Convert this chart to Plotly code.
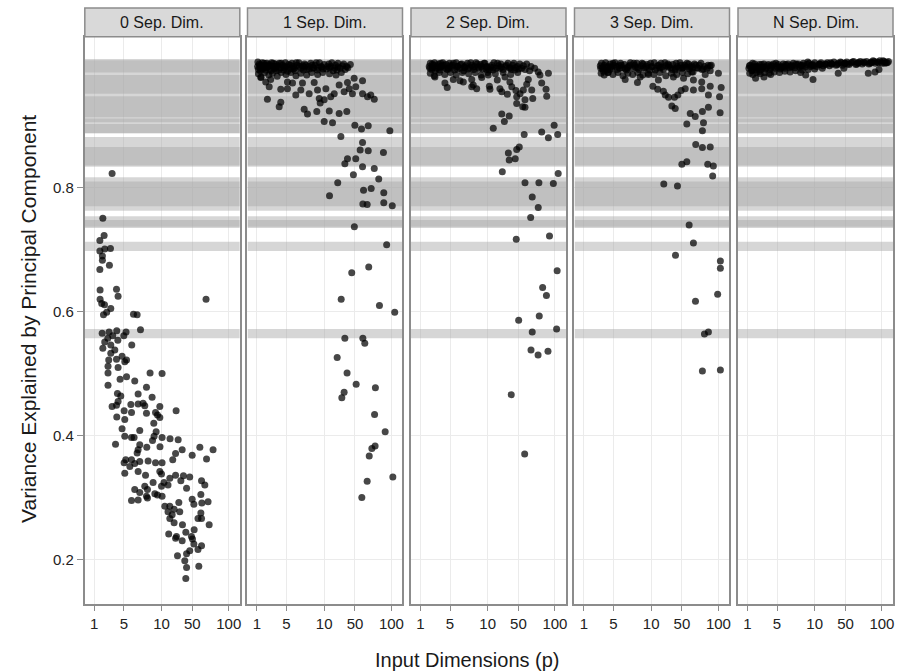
import plotly.graph_objects as go

# ---------------- data ----------------
facet_labels = ["0 Sep. Dim.", "1 Sep. Dim.", "2 Sep. Dim.", "3 Sep. Dim.", "N Sep. Dim."]
x_tick_vals = [1, 2.75, 10, 28.7, 100]
x_tick_text = ["1", "5", "10", "50", "100"]
y_tick_vals = [0.2, 0.4, 0.6, 0.8]
y_tick_text = ["0.2", "0.4", "0.6", "0.8"]

# reference bands (value ranges), drawn semi-transparent so overlaps look darker
bands = [(0.888, 1.008), (0.986, 1.006), (0.952, 0.982), (0.914, 0.948), (0.906, 0.912),
         (0.888, 0.903), (0.834, 0.882), (0.836, 0.866), (0.763, 0.817), (0.770, 0.810),
         (0.735, 0.754), (0.737, 0.748), (0.698, 0.713), (0.557, 0.572)]

# (p, variance explained) per facet
pts0 = [(1.84,0.823),(1.34,0.751),(1.40,0.723),(1.21,0.715),(1.21,0.698),(1.43,0.701),(1.74,0.702),(1.32,0.690),
        (1.32,0.683),(1.68,0.675),(1.21,0.668),(1.22,0.635),(2.14,0.636),(2.26,0.625),(1.22,0.620),(1.29,0.613),
        (1.42,0.611),(1.76,0.605),(1.53,0.599),(1.37,0.595),(3.83,0.596),(4.34,0.595),(46,0.620),(1.31,0.565),
        (1.66,0.567),(2.16,0.569),(2.97,0.567),(4.87,0.571),(1.59,0.557),(1.88,0.561),(1.43,0.551),(1.76,0.546),
        (2.24,0.554),(2.75,0.561),(3.61,0.546),(1.34,0.541),(2.02,0.538),
        (1.76,0.533),(2.59,0.528),(1.64,0.522),(2.84,0.519),(3.02,0.522),(2.14,0.523),(1.60,0.512),(2.26,0.510),
        (6.76,0.501),(10.2,0.500),(1.60,0.501),(2.42,0.491),(3.02,0.495),(4.0,0.488),(1.60,0.481),(5.98,0.478),
        (2.21,0.468),(2.48,0.464),(4.49,0.467),(7.25,0.462),(2.26,0.455),(2.14,0.449),(1.84,0.447),(3.5,0.450),
        (4.49,0.451),(5.32,0.452),(5.64,0.448),(9.44,0.447),(2.78,0.440),(3.58,0.437),(5.98,0.436),(8.15,0.437),
        (8.72,0.433),(16.5,0.440),(2.16,0.430),(2.84,0.426),(9.44,0.429),(7.68,0.420),(2.59,0.411),(4.75,0.408),
        (8.32,0.406),(2.84,0.399),(3.58,0.397),(3.91,0.397),(7.76,0.399),(10.2,0.397),(13.4,0.395),(17.7,0.393),
        (7.35,0.392),(2.07,0.386),(4.75,0.385),(6.04,0.381),(9.5,0.382),(4.49,0.377),(20.3,0.377),(37.2,0.381),
        (58.5,0.377),(4.34,0.372),(16.2,0.371),(28.6,0.368),(46.8,0.362),(2.94,0.361),(3.58,0.361),(2.78,0.356),
        (4.0,0.355),(4.75,0.358),(6.32,0.359),(8.15,0.356),(10.2,0.356),(14.7,0.361),(3.38,0.350),(4.49,0.342),
        (2.84,0.339),(9.44,0.342),(10.0,0.338),(5.79,0.336),(16.2,0.336),(21.2,0.335),(26.3,0.333),(13.3,0.331),
        (19.4,0.327),(39.4,0.327),(44.1,0.320),(7.5,0.324),(10.9,0.324),(12.5,0.320),(5.64,0.318),(4.0,0.313),
        (23.6,0.315),(6.18,0.313),(10.0,0.318),(4.75,0.308),(7.96,0.306),(8.72,0.304),(10.2,0.302),(5.98,0.302),
        (6.18,0.299),(3.58,0.295),(4.49,0.296),(28.6,0.297),(38.5,0.305),(49.3,0.293),(30.3,0.289),(39.8,0.291),
        (11.2,0.286),(13.3,0.286),(18.1,0.292),(15.4,0.281),(12.5,0.277),(18.7,0.277),(14.4,0.272),(38.5,0.275),
        (34.9,0.266),(39.4,0.266),(13.3,0.266),(15.4,0.259),(20.5,0.256),(51.2,0.256),(12.8,0.241),(16.7,0.237),
        (23.0,0.244),(30.6,0.248),(27.9,0.237),(16.2,0.234),(20.3,0.230),(28.9,0.233),(30.3,0.225),(39.4,0.222),
        (34.9,0.216),(26.3,0.214),(23.6,0.209),(17.3,0.206),(22.2,0.198),(35.9,0.189),(23.6,0.187),(23.0,0.169)]

pts1 = [(1.02,0.996),(1.05,0.991),(1.08,1.000),(1.12,0.989),(1.16,0.997),(1.20,1.002),(1.25,0.993),(1.30,0.998),
        (1.35,0.990),(1.40,1.001),(1.45,0.995),(1.52,0.999),(1.58,0.991),(1.65,1.002),(1.72,0.996),(1.80,0.993),
        (1.88,1.000),(1.95,0.989),(2.05,0.997),(2.15,1.001),(2.25,0.994),(2.38,0.998),(2.50,0.990),(2.65,1.002),
        (2.80,0.995),(2.95,0.999),(3.10,0.992),(3.30,1.001),(3.50,0.996),(3.70,0.989),(3.95,0.998),(4.20,1.002),
        (4.50,0.993),(4.80,0.997),(5.10,1.000),(5.50,0.991),(5.90,0.996),(6.30,1.001),(6.80,0.994),(7.30,0.998),
        (7.90,0.990),(8.50,1.002),(9.20,0.995),(10.0,0.999),(10.8,0.992),(11.7,1.000),(12.6,0.996),(13.6,0.989),
        (14.7,0.998),(16.0,1.001),(17.3,0.993),(18.7,0.997),(20.5,0.991),
        (1.05,0.984),(1.15,0.979),(1.30,0.986),(1.50,0.982),(1.70,0.985),(2.00,0.980),(2.30,0.986),(2.70,0.983),
        (3.20,0.986),(3.80,0.981),(4.50,0.985),(5.50,0.982),(6.50,0.986),(8.00,0.983),(9.50,0.986),(12.0,0.984),
        (15.0,0.982),(18.0,0.986),
        (1.1,0.994),(1.4,0.996),(1.9,0.993),(2.6,0.996),(3.6,0.993),(5,0.995),(7,0.993),(9,0.996),(12,0.994),
        (16,0.995),(22.5,0.994),(24.5,0.999),
        (1.03,1.003),(1.1,0.998),(1.18,0.992),(1.28,1.001),(1.38,0.994),(1.5,0.997),(1.62,0.989),(1.75,1.001),
        (1.9,0.996),(2.1,0.990),(2.3,1.001),(2.55,0.994),(2.85,0.988),(3.15,0.998),(3.45,0.992),(3.85,1.002),
        (4.3,0.996),(4.9,0.990),(5.3,0.998),(6.0,0.992),(6.6,0.998),(7.6,1.002),(8.2,0.994),(9.6,0.992),
        (11.2,0.996),(13.0,1.002),(14.2,0.993),(15.5,0.990),(19.5,1.000),(21.5,0.996),
        (1.14,0.978),(1.35,0.971),(1.52,0.963),(1.60,0.975),(2.26,0.959),(1.43,0.943),(2.26,0.938),(2.14,0.931),
        (2.84,0.971),(2.84,0.960),(3.38,0.969),(3.78,0.950),(4.49,0.958),(4.75,0.969),(5.98,0.952),(7.1,0.970),
        (7.96,0.958),(8.44,0.944),(8.72,0.937),(10,0.942),(10.6,0.960),(12.5,0.947),(14.1,0.952),(16.7,0.966),
        (19.8,0.955),(22.2,0.970),(23.6,0.960),(26.3,0.952),(27.9,0.977),(29.5,0.963),(37.2,0.973),(37.2,0.952),
        (44.1,0.947),(49.3,0.950),(55.6,0.943),(5.04,0.927),(5.64,0.919),(7.76,0.923),(11.9,0.924),(16.7,0.920),
        (21.7,0.923),(10,0.907),(13.3,0.905),(17.7,0.883),(28.6,0.901),(35.9,0.895),(45.2,0.900),(37.2,0.873),
        (34.3,0.861),(45.2,0.860),(76.1,0.857),(94.8,0.892),(22.2,0.847),(20.3,0.839),(29.5,0.847),(37.2,0.834),
        (55.6,0.831),(27.2,0.821),(64.8,0.814),(15.9,0.808),(12.0,0.787),(38.5,0.796),(50,0.799),(77,0.792),
        (37.6,0.774),(43.6,0.773),(77,0.776),(103,0.771),(28.1,0.737),(85,0.708),(46,0.672),(25.7,0.663),
        (17.9,0.620),(66.4,0.610),(112,0.599),(20.3,0.557),(37.6,0.557),(40.2,0.549),(15.6,0.526),(21.9,0.501),
        (29.9,0.483),(57.8,0.477),(19.8,0.470),(18.3,0.461),(56.2,0.434),(80.8,0.406),(57.2,0.383),(51.2,0.379),
        (46.8,0.367),(105,0.333),(43.6,0.326),(36.3,0.300)]

pts2 = [(1.35,0.996),(1.40,1.001),(1.47,0.991),(1.55,0.998),(1.62,1.002),(1.70,0.993),(1.78,0.997),(1.86,1.000),
        (1.95,0.990),(2.05,0.996),(2.15,1.002),(2.27,0.994),(2.40,0.999),(2.55,0.991),(2.70,1.001),(2.85,0.995),
        (3.00,0.998),(3.20,0.990),(3.40,1.002),(3.60,0.996),(3.85,0.993),(4.10,1.000),(4.40,0.989),(4.70,0.997),
        (5.00,1.001),(5.40,0.994),(5.80,0.998),(6.20,0.991),(6.70,1.002),(7.20,0.995),(7.80,0.999),(8.40,0.992),
        (9.10,1.001),(9.80,0.996),(10.6,0.990),(11.5,0.998),(12.4,1.002),(13.4,0.993),(14.5,0.997),(15.7,1.000),
        (17.0,0.991),(18.4,0.996),(20.0,1.001),(21.7,0.994),(23.5,0.998),(25.5,0.990),(27.7,0.996),(30.0,1.000),
        (32.0,0.993),
        (1.4,0.985),(1.6,0.981),(1.9,0.986),(2.3,0.983),(2.8,0.986),(3.4,0.982),(4.2,0.986),(5.2,0.984),(6.5,0.986),
        (8.0,0.982),(10,0.986),(13,0.984),(17,0.986),(22,0.983),(28,0.986),(36,0.991),(42,0.989),(50,0.993),
        (1.5,0.994),(2.0,0.995),(2.6,0.993),(3.5,0.996),(4.6,0.994),(6,0.995),(7.5,0.993),(9.5,0.995),(12,0.994),
        (16,0.995),(21,0.993),(26,0.994),
        (1.38,0.993),(1.5,1.000),(1.66,0.989),(1.82,0.994),(2.0,1.001),(2.2,0.998),(2.45,0.992),(2.75,0.997),
        (3.1,1.001),(3.5,0.992),(3.95,0.999),(4.5,0.995),(5.1,0.992),(5.6,1.002),(6.4,0.996),(7.0,1.000),
        (8.0,0.996),(8.8,1.001),(9.5,0.991),(11,0.995),(12,0.990),(14,1.001),(15,0.993),(19,0.998),(22.5,0.991),
        (24.5,1.001),(29,0.992),(34,0.997),(38,1.000),(44,0.996),
        (1.64,0.979),(2.31,0.969),(2.50,0.962),(3.08,0.975),(3.87,0.973),(4.34,0.971),(5.79,0.975),(6.1,0.966),
        (5.79,0.963),(6.86,0.960),(8.15,0.978),(10.2,0.982),(10.6,0.964),(10.8,0.959),(13.9,0.974),(15.2,0.960),
        (16.2,0.955),(19.6,0.951),(18.1,0.979),(21.4,0.971),(22.8,0.963),(26.3,0.957),(27.0,0.947),(30.3,0.952),
        (33.9,0.958),(35.9,0.942),(27.0,0.936),(33.2,0.931),(38.1,0.967),(40.2,0.975),(45.2,0.958),(46.8,0.944),
        (56.5,0.987),(60,0.982),(63.6,0.969),(73.8,0.959),(75.6,0.948),(80,0.985),(35.9,0.930),(16.2,0.919),
        (20.9,0.916),(17.7,0.907),(12.1,0.896),(34.9,0.886),(63.6,0.890),(80,0.881),(97.4,0.901),(110,0.886),
        (20.3,0.856),(27.0,0.862),(29.5,0.866),(20.9,0.845),(25.7,0.847),(16.5,0.826),(112,0.823),(35.9,0.808),
        (57.8,0.808),(94.8,0.807),(46,0.785),(56.5,0.768),(43.6,0.752),(83.1,0.722),(26.6,0.717),(108,0.666),
        (65.7,0.639),(74.8,0.626),(58.5,0.593),(28.9,0.586),(46,0.567),(106,0.572),(44.1,0.538),(56.2,0.530),
        (78.9,0.536),(22.4,0.466),(35.5,0.370)]

pts3 = [(1.75,0.997),(1.82,1.001),(1.90,0.992),(2.00,0.998),(2.10,1.002),(2.20,0.990),(2.30,0.996),(2.45,1.000),
        (2.60,0.993),(2.75,0.998),(2.90,1.002),(3.10,0.991),(3.30,0.997),(3.50,1.001),(3.75,0.994),(4.00,0.999),
        (4.30,0.990),(4.60,0.996),(4.90,1.002),(5.30,0.993),(5.70,0.998),(6.10,1.001),(6.60,0.991),(7.10,0.997),
        (7.60,1.000),(8.20,0.994),(8.80,0.999),(9.50,0.990),(10.3,0.996),(11.1,1.002),(12.0,0.993),(13.0,0.998),
        (14.0,1.001),(15.2,0.991),(16.5,0.997),(17.8,1.000),(19.3,0.994),(21.0,0.999),(22.8,0.990),(24.7,0.996),
        (26.8,1.002),(29.0,0.993),(31.5,0.998),(34.0,1.001),(37.0,0.992),(40.0,0.997),(44.0,1.000),(48.0,0.994),
        (52.0,0.998),(57.0,0.991),(62.0,0.996),(68.0,0.993),(75.0,0.997),
        (1.8,0.985),(2.0,0.982),(2.3,0.986),(2.7,0.983),(3.2,0.986),(3.8,0.981),(4.5,0.985),(5.3,0.983),(6.3,0.986),
        (7.5,0.982),(9.0,0.985),(11,0.983),(13.5,0.986),(16.5,0.981),(20,0.985),(24,0.983),(29,0.986),(35,0.984),
        (42,0.987),
        (1.9,0.994),(2.5,0.995),(3.4,0.993),(4.4,0.994),(5.8,0.995),(7.8,0.993),(10,0.995),(13.5,0.994),(18,0.995),
        (23,0.993),(30,0.994),(38,0.995),(50,0.993),
        (1.78,0.993),(1.95,0.988),(2.15,0.995),(2.4,0.991),(2.7,1.001),(3.0,0.996),(3.6,0.998),(4.1,0.992),
        (4.8,0.998),(5.5,1.001),(6.3,0.994),(7.3,1.001),(8.5,0.996),(9.8,1.001),(11.5,0.990),(12.5,0.997),
        (14.5,0.995),(16,1.002),(18.5,0.998),(20.5,0.991),(23.5,1.001),(26,0.993),(28,0.998),(33,0.995),
        (36,1.000),(41,0.994),(46,0.998),(55,1.001),(60,0.992),(70,0.998),
        (2.26,0.986),(4.1,0.975),(6.25,0.970),(6.86,0.979),(9.1,0.983),(12.8,0.974),(10.6,0.964),(12.5,0.959),
        (15.2,0.956),(16.2,0.950),(18.1,0.946),(22.2,0.946),(24.9,0.950),(27.9,0.957),(32.1,0.960),(20.3,0.932),
        (22.8,0.928),(21.4,0.979),(30.3,0.977),(40.2,0.987),(42.5,0.974),(56.5,0.971),(63.6,0.983),(75.6,0.989),
        (78.4,0.998),(100,0.985),(42.5,0.958),(56.5,0.960),(75.6,0.964),(71,0.950),(110,0.962),(104,0.947),
        (71,0.930),(57.8,0.923),(106,0.921),(38.1,0.920),(45.2,0.915),(33.9,0.903),(60,0.905),(57.8,0.892),
        (46,0.870),(57.8,0.865),(75.6,0.866),(33.9,0.842),(28.6,0.838),(69.4,0.838),(84.1,0.835),(82.2,0.819),
        (15.4,0.806),(24.6,0.803),(36.7,0.740),(42.5,0.711),(23,0.691),(107,0.682),(107,0.670),(45.6,0.617),
        (97.4,0.628),(71,0.567),(62,0.564),(57.8,0.504),(107,0.506)]

pts4 = [(1.05,0.993),(1.10,0.998),(1.16,0.989),(1.22,0.995),(1.28,1.000),(1.35,0.991),(1.42,0.996),(1.50,0.999),
        (1.58,0.990),(1.66,0.995),(1.75,1.000),(1.85,0.992),(1.95,0.997),(2.05,0.999),(2.17,0.991),(2.30,0.996),
        (2.43,1.000),(2.57,0.993),(2.72,0.997),(2.88,0.999),(3.05,0.992),(3.22,0.996),(3.40,1.000),(3.60,0.993),
        (3.80,0.997),(4.00,1.000),(4.25,0.994),(4.50,0.998),(4.80,1.001),(5.10,0.994),(5.40,0.998),(5.70,1.000),
        (6.00,0.995),(6.40,0.998),(6.80,1.001),(7.20,0.995),(7.70,0.999),(8.20,1.001),(8.70,0.996),(9.30,0.999),
        (10.0,1.002),(10.7,0.996),(11.5,0.999),(12.4,1.002),(13.3,0.997),(14.3,1.000),(15.4,1.002),(16.6,0.997),
        (17.9,1.000),(19.3,1.003),(20.8,0.998),(22.4,1.001),(24.2,1.003),(26.0,0.998),(28.0,1.001),(30.0,1.003),
        (32.5,0.999),(35.0,1.002),(38.0,1.004),(41.0,0.999),(44.0,1.002),(47.5,1.004),(51.0,1.000),(55.0,1.002),
        (59.0,1.004),(64.0,1.000),(69.0,1.003),(74.0,1.005),(80.0,1.001),(86.0,1.003),(93.0,1.005),(100,1.001),
        (108,1.004),(116,1.002),(125,1.004),
        (1.08,0.985),(1.2,0.983),(1.35,0.986),(1.55,0.984),(1.8,0.986),(2.1,0.985),(2.5,0.987),(3.0,0.986),
        (3.6,0.988),(4.3,0.987),(5.2,0.989),(6.5,0.990),(8,0.991),(10,0.992),(13,0.993),
        (1.13,0.994),(1.4,0.994),(1.7,0.995),(2.2,0.994),(2.8,0.995),(3.5,0.995),(4.6,0.996),(6.2,0.997),(9,0.998),
        (12,0.999),(18,1.000),(28,1.001),(45,1.002),(70,1.002),(110,1.001),
        (1.07,0.997),(1.19,1.001),(1.31,0.996),(1.46,0.993),(1.62,0.999),(1.9,0.994),(2.25,0.998),(2.65,1.001),
        (3.15,0.994),(3.7,0.999),(4.4,0.996),(5.3,1.000),(6.6,0.997),(7.9,1.003),(9.6,0.997),(11.9,1.000),
        (14.8,0.999),(17.2,1.002),(21.6,0.999),(25,1.002),(31,1.000),(36.5,1.003),(42.5,1.000),(53,1.003),
        (66,1.001),(77,1.004),(90,1.002),(104,1.005),(120,1.002),
        (1.32,0.977),(1.76,0.979),(2.21,0.983),(6.18,0.986),(7.35,0.982),(9.44,0.975),(22.4,0.985),(27.2,0.993),
        (62.7,0.985),(78.9,0.987),(90.4,0.991),(1.18,0.990),(1.48,0.987)]

facet_points = [pts0, pts1, pts2, pts3, pts4]

# ---------------- layout constants ----------------
W, H = 898, 671
FONT = "Liberation Sans, Arial, sans-serif"
panel_w = 0.19159
panel_starts = [0.001, 0.20210, 0.40420, 0.60630, 0.80841]
y_top = 0.9519
y_range = [0.128, 1.044]
x_range_log = [-0.141, 2.165]
x_lo, x_hi = 10 ** x_range_log[0], 10 ** x_range_log[1]
border_col = "#8c8c8c"
grid_col = "#ebebeb"
band_fill = "rgba(166,166,166,0.46)"
tick_font = dict(family=FONT, size=15, color="#222222")

fig = go.Figure()
shapes = []
annotations = []

# label-only axis pair for the y tick labels of the first facet (carries one invisible trace)
fig.add_trace(go.Scatter(x=[1], y=[0.5], mode="markers", marker=dict(opacity=0),
                         xaxis="x", yaxis="y", showlegend=False, hoverinfo="skip"))
fig.layout["xaxis"] = dict(domain=[panel_starts[0], panel_starts[0] + panel_w], type="log",
                           range=x_range_log, anchor="y", visible=False, fixedrange=True)
fig.layout["yaxis"] = dict(domain=[0, y_top], range=y_range, anchor="x",
                           tickmode="array", tickvals=y_tick_vals, ticktext=y_tick_text,
                           ticks="outside", ticklen=7, tickcolor=border_col, tickwidth=1,
                           showgrid=False, zeroline=False, showline=False,
                           tickfont=tick_font, fixedrange=True)

order = [1, 2, 3, 4, 0]   # first facet drawn last
for i in order:
    pts = facet_points[i]
    sfx = str(i + 2)   # axes x2..x6 / y2..y6
    for lo, hi in bands:
        fig.add_trace(go.Scatter(
            x=[x_lo, x_hi, x_hi, x_lo, x_lo], y=[lo, lo, hi, hi, lo],
            mode="lines", fill="toself", fillcolor=band_fill, line=dict(width=0),
            xaxis="x" + sfx, yaxis="y" + sfx, showlegend=False, hoverinfo="skip"))
    fig.add_trace(go.Scatter(
        x=[p for p, _ in pts], y=[v for _, v in pts], mode="markers",
        xaxis="x" + sfx, yaxis="y" + sfx,
        marker=dict(color="black", opacity=0.72, size=7, line=dict(width=0)),
        showlegend=False, hoverinfo="skip"))

    d0, d1 = panel_starts[i], panel_starts[i] + panel_w
    fig.layout["xaxis" + sfx] = dict(
        domain=[d0, d1], type="log", range=x_range_log, anchor="y" + sfx,
        tickmode="array", tickvals=x_tick_vals, ticktext=x_tick_text,
        showgrid=True, gridcolor=grid_col, gridwidth=1, zeroline=False,
        showline=True, mirror=True, linecolor=border_col, linewidth=1.5,
        ticks="outside", ticklen=5, tickcolor=border_col, tickwidth=1,
        tickfont=tick_font, fixedrange=True)
    fig.layout["yaxis" + sfx] = dict(
        domain=[0, y_top], range=y_range, anchor="x" + sfx,
        tickmode="array", tickvals=y_tick_vals, ticktext=y_tick_text,
        showticklabels=False, ticks="",
        showgrid=True, gridcolor=grid_col, gridwidth=1, zeroline=False,
        showline=True, mirror=True, linecolor=border_col, linewidth=1.5,
        fixedrange=True)

    # facet strip
    shapes.append(dict(type="rect", xref="paper", yref="paper", x0=d0, x1=d1,
                       y0=y_top, y1=1.0, fillcolor="#d9d9d9",
                       line=dict(color=border_col, width=1.5), layer="above"))
    annotations.append(dict(text=facet_labels[i], xref="paper", yref="paper",
                            x=(d0 + d1) / 2, y=(y_top + 1.0) / 2, showarrow=False,
                            xanchor="center", yanchor="middle",
                            font=dict(family=FONT, size=16, color="#1a1a1a")))

annotations.append(dict(text="Input Dimensions (p)", xref="paper", yref="paper",
                        x=(467 - 84) / 809, y=(604 - 660) / 596, showarrow=False,
                        xanchor="center", yanchor="middle",
                        font=dict(family=FONT, size=20, color="#1a1a1a")))
annotations.append(dict(text="Variance Explained by Principal Component", xref="paper", yref="paper",
                        x=(28 - 84) / 809, y=(604 - 319) / 596, showarrow=False, textangle=-90,
                        xanchor="center", yanchor="middle",
                        font=dict(family=FONT, size=21, color="#1a1a1a")))

fig.update_layout(width=W, height=H, margin=dict(l=84, r=5, t=8, b=67, autoexpand=False),
                  paper_bgcolor="white", plot_bgcolor="rgba(0,0,0,0)",
                  shapes=shapes, annotations=annotations, showlegend=False)

fig.write_html("out.html")
